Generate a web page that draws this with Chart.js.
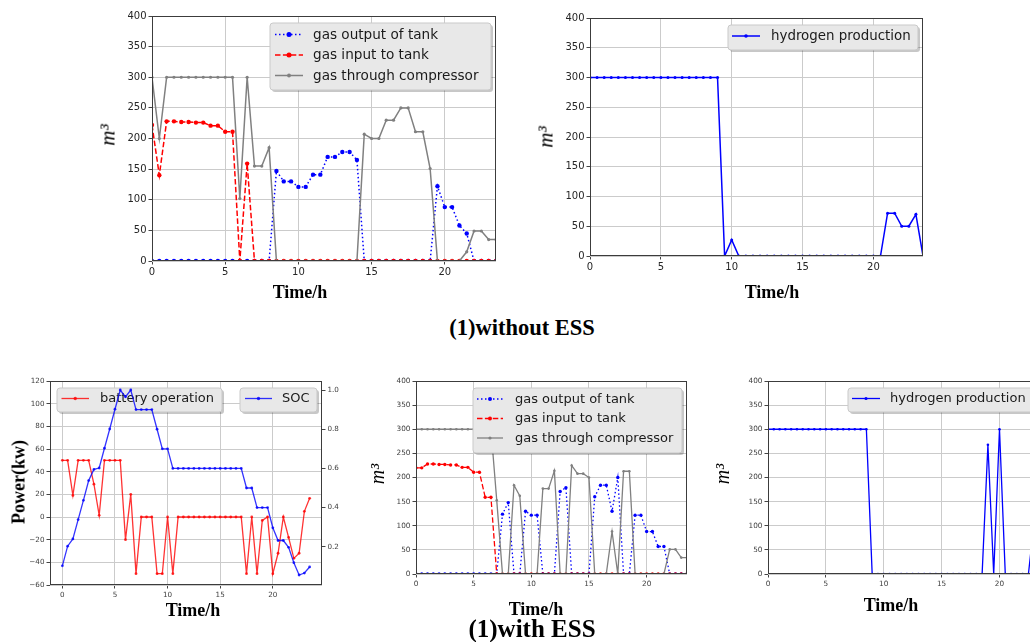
<!DOCTYPE html>
<html><head><meta charset="utf-8">
<script src="https://cdn.jsdelivr.net/npm/chart.js@4.4.1/dist/chart.umd.min.js"></script>
<style>
html,body{margin:0;padding:0;background:#fff;width:1030px;height:642px;overflow:hidden;position:relative}
canvas{position:absolute}
.t{position:absolute;white-space:nowrap;line-height:1;color:#000;transform:translate(-50%,-50%);z-index:5}
.xt{font:bold 18px "Liberation Serif",serif}
.cap{font:bold 22.5px "Liberation Serif",serif}
.yt{font:italic 21px "Liberation Serif",serif;transform:translate(-50%,-50%) rotate(-90deg)}
.yb{font:bold 18px "Liberation Serif",serif;transform:translate(-50%,-50%) rotate(-90deg)}
</style></head><body>
<div class="t yt" style="left:108px;top:135px">m³</div>
<div class="t yt" style="left:546px;top:137px">m³</div>
<div class="t yb" style="left:19px;top:482px">Power(kw)</div>
<div class="t yt" style="left:377px;top:474px;font-size:20px">m³</div>
<div class="t yt" style="left:722px;top:474px;font-size:20px">m³</div>
<div class="t xt" style="left:300px;top:292px">Time/h</div>
<div class="t xt" style="left:772px;top:292px">Time/h</div>
<div class="t xt" style="left:193px;top:610px">Time/h</div>
<div class="t xt" style="left:536px;top:609px">Time/h</div>
<div class="t xt" style="left:891px;top:605px">Time/h</div>
<div class="t cap" style="left:522px;top:328px">(1)without ESS</div>
<div class="t cap" style="left:532px;top:629px;font-size:25px">(1)with ESS</div>
<script>
// ---------------- data ----------------
const hours = [0,0.5,1,1.5,2,2.5,3,3.5,4,4.5,5,5.5,6,6.5,7,7.5,8,8.5,9,9.5,10,10.5,11,11.5,12,12.5,13,13.5,14,14.5,15,15.5,16,16.5,17,17.5,18,18.5,19,19.5,20,20.5,21,21.5,22,22.5,23,23.5];
const xTicks = [0,5,10,15,20];
const gasTicks = [0,50,100,150,200,250,300,350,400];
const powerTicks = [-60,-40,-20,0,20,40,60,80,100,120];
const socTicks = [0.2,0.4,0.6,0.8,1.0];

// (1) without ESS
const noEssTankOut = [0,0,0,0,0,0,0,0,0,0,0,0,0,0,0,0,0,147,130,130,121,121,141,141,170,170,178,178,165,0,0,0,0,0,0,0,0,0,0,122,88,88,58,45,0,0,0,0];
const noEssTankIn = [222,140,228,228,227,227,226,226,221,221,211,211,0,159,0,0,0,0,0,0,0,0,0,0,0,0,0,0,0,0,0,0,0,0,0,0,0,0,0,0,0,0,0,0,0,0,0,0];
const noEssCompressor = [300,200,300,300,300,300,300,300,300,300,300,300,102,300,155,155,185,0,0,0,0,0,0,0,0,0,0,0,0,207,200,200,230,230,250,250,211,211,151,0,0,0,0,15,49,49,35,35];
const noEssHydrogen = [300,300,300,300,300,300,300,300,300,300,300,300,300,300,300,300,300,300,300,0,27,0,0,0,0,0,0,0,0,0,0,0,0,0,0,0,0,0,0,0,0,0,72,72,50,50,70,0];

// (1) with ESS
const batteryOp = [50,50,19,50,50,50,29,1.5,50,50,50,50,-20,20,-50,0,0,0,-50,-50,0,-50,0,0,0,0,0,0,0,0,0,0,0,0,0,-50,0,-50,-3,0,-50,-32,0,-18,-36.5,-32,5,16.5];
const batterySoc = [0.103,0.203,0.240,0.339,0.437,0.538,0.595,0.602,0.703,0.801,0.902,1.0,0.965,1.0,0.90,0.90,0.90,0.90,0.80,0.70,0.70,0.60,0.60,0.60,0.60,0.60,0.60,0.60,0.60,0.60,0.60,0.60,0.60,0.60,0.60,0.50,0.50,0.40,0.40,0.40,0.297,0.232,0.232,0.197,0.119,0.056,0.066,0.097];
const essTankOut = [0,0,0,0,0,0,0,0,0,0,0,0,0,0,0,124,148,0,0,130,122,122,0,0,0,171,179,0,0,0,0,160,184,184,130,200,0,0,122,122,88,88,57,57,0,0,0,0];
const essTankIn = [220,220,228,228,227,227,226,226,221,221,211,211,159,159,0,0,0,0,0,0,0,0,0,0,0,0,0,0,0,0,0,0,0,0,0,0,0,0,0,0,0,0,0,0,0,0,0,0];
const essCompressor = [300,300,300,300,300,300,300,300,300,300,300,300,300,300,153,0,0,184,162,0,0,0,177,177,214,0,0,225,208,208,200,0,0,0,88,0,213,213,0,0,0,0,0,0,51,51,34,34];
const essHydrogen = [300,300,300,300,300,300,300,300,300,300,300,300,300,300,300,300,300,300,0,0,0,0,0,0,0,0,0,0,0,0,0,0,0,0,0,0,0,0,268,0,300,0,0,0,0,0,110,0];

// ---------------- helpers ----------------
const gridColor = '#cbcbcb';
const tickMarkColor = '#444';
function fmt(v){ return v < 0 ? '\u2212' + Math.abs(v) : String(v); }
function pts(vals){ return hours.map((h,i)=>({x:h, y:vals[i]})); }
function ds(label, vals, o){
  return Object.assign({label, data:pts(vals), borderWidth:1.5, pointRadius:2, pointBorderWidth:0, pointHoverRadius:0, tension:0, fill:false}, o);
}
function rr(ctx,x,y,w,h,r){
  ctx.beginPath(); ctx.moveTo(x+r,y); ctx.lineTo(x+w-r,y); ctx.quadraticCurveTo(x+w,y,x+w,y+r);
  ctx.lineTo(x+w,y+h-r); ctx.quadraticCurveTo(x+w,y+h,x+w-r,y+h); ctx.lineTo(x+r,y+h);
  ctx.quadraticCurveTo(x,y+h,x,y+h-r); ctx.lineTo(x,y+r); ctx.quadraticCurveTo(x,y,x+r,y); ctx.closePath();
}
const framePlugin = {
  id:'frame',
  afterDatasetsDraw(chart){
    const {ctx, chartArea:a} = chart;
    ctx.save(); ctx.strokeStyle = '#3c3c3c'; ctx.lineWidth = 1;
    ctx.strokeRect(Math.round(a.left)+0.5, Math.round(a.top)+0.5, Math.round(a.right-a.left)-1, Math.round(a.bottom-a.top)-1);
    ctx.restore();
  }
};
function drawBoxes(chart, under){
  const cfg = chart.canvas._legend; if(!cfg) return;
  const ctx = chart.ctx;
  cfg.boxes.filter(b => !!b.under === under).forEach(b=>{
    const x = b.x - cfg.ox, y = b.y - cfg.oy;
    ctx.save();
    rr(ctx, x+2, y+2, b.w, b.h, 3); ctx.fillStyle='rgba(0,0,0,0.22)'; ctx.fill();
    rr(ctx, x, y, b.w, b.h, 3); ctx.fillStyle='#e8e8e8'; ctx.fill();
    ctx.strokeStyle='#c9c9c9'; ctx.lineWidth=1; ctx.stroke();
    b.items.forEach((di,k)=>{
      const d = chart.data.datasets[di];
      const cy = y + b.pad + k*(b.rowH||0);
      ctx.beginPath(); ctx.setLineDash(d.borderDash||[]); ctx.strokeStyle=d.borderColor; ctx.lineWidth=d.borderWidth;
      ctx.moveTo(x+b.l0, cy); ctx.lineTo(x+b.l1, cy); ctx.stroke(); ctx.setLineDash([]);
      ctx.beginPath(); ctx.arc(x+(b.l0+b.l1)/2, cy, d.pointRadius+0.3, 0, Math.PI*2); ctx.fillStyle=d.pointBackgroundColor; ctx.fill();
      ctx.font = b.font; ctx.fillStyle='#1a1a1a'; ctx.textBaseline='middle'; ctx.textAlign='left';
      ctx.fillText(d.label, x+b.tx, cy+0.5);
    });
    ctx.restore();
  });
}
const legendPlugin = {
  id:'mplLegend',
  beforeDatasetsDraw(chart){ drawBoxes(chart, true); },
  afterDraw(chart){ drawBoxes(chart, false); }
};

function build(spec){
  const {rect, lm, rm, tm, bm, xMin, xMax, fs, labelColor, datasets, legends, yTicks, yMin, yMax, y1} = spec;
  const c = document.createElement('canvas');
  const W = rect.R - rect.L + lm + rm, H = rect.B - rect.T + tm + bm;
  c.width = W; c.height = H;
  c.style.left = (rect.L - lm) + 'px'; c.style.top = (rect.T - tm) + 'px';
  c.style.width = W + 'px'; c.style.height = H + 'px';
  document.body.appendChild(c);
  c._legend = {ox: rect.L - lm, oy: rect.T - tm, boxes: legends};
  const tickFont = {family:'DejaVu Sans', size:fs};
  const scales = {
    x: {type:'linear', min:xMin, max:xMax,
      afterBuildTicks: s => { s.ticks = xTicks.map(v=>({value:v})); },
      afterFit: s => { s.height = bm; },
      grid: {color:gridColor, lineWidth:1, drawTicks:true, tickLength:3.5, tickColor:tickMarkColor},
      border: {display:false},
      ticks: {font:tickFont, color:labelColor, padding:2, maxRotation:0, autoSkip:false, callback: v => fmt(v)}
    },
    y: {type:'linear', position:'left', min:yMin, max:yMax,
      afterBuildTicks: s => { s.ticks = yTicks.map(v=>({value:v})); },
      afterFit: s => { s.width = lm; },
      grid: {color:gridColor, lineWidth:1, drawTicks:true, tickLength:3.5, tickColor:tickMarkColor},
      border: {display:false},
      ticks: {font:tickFont, color:labelColor, padding:2, autoSkip:false, callback: v => fmt(v)}
    }
  };
  if (y1) {
    scales.y1 = {type:'linear', position:'right', min:y1.min, max:y1.max,
      afterBuildTicks: s => { s.ticks = y1.ticks.map(v=>({value:v})); },
      afterFit: s => { s.width = rm; },
      grid: {display:true, drawOnChartArea:false, drawTicks:true, tickLength:3.5, tickColor:tickMarkColor},
      border: {display:false},
      ticks: {font:tickFont, color:labelColor, padding:2, autoSkip:false, callback: v => v.toFixed(1)}
    };
  }
  new Chart(c, {
    type:'line',
    data:{datasets},
    options:{
      responsive:false, animation:false, devicePixelRatio:1,
      layout:{padding:{left:0, top:tm, right: y1 ? 0 : rm, bottom:0}},
      plugins:{legend:{display:false}, tooltip:{enabled:false}},
      events:[],
      scales
    },
    plugins:[framePlugin, legendPlugin]
  });
}

const blueDot = {borderColor:'#0000ff', pointBackgroundColor:'#0000ff', borderDash:[1.5,2.5]};
const redDash = {borderColor:'#ff0000', pointBackgroundColor:'#ff0000', borderDash:[5.5,2.4]};
const greySolid = {borderColor:'#808080', pointBackgroundColor:'#808080'};
const blueSolid = {borderColor:'#0000ff', pointBackgroundColor:'#0000ff'};

// Top-left: gas flows without ESS
build({
  rect:{L:152, T:16, R:496, B:261}, lm:45, rm:12, tm:12, bm:24, xMin:0, xMax:23.5, fs:10, labelColor:'#262626',
  yTicks:gasTicks, yMin:0, yMax:400,
  datasets:[
    ds('gas output of tank', noEssTankOut, Object.assign({pointRadius:2.2, order:2}, blueDot)),
    ds('gas input to tank', noEssTankIn, Object.assign({pointRadius:2.2, order:1}, redDash)),
    ds('gas through compressor', noEssCompressor, Object.assign({pointRadius:1.6, order:0}, greySolid))
  ],
  legends:[{x:270, y:23, w:221, h:67, pad:11.5, rowH:20.5, l0:5, l1:33, tx:43, font:'13.6px "DejaVu Sans"', items:[0,1,2]}]
});

// Top-right: hydrogen production without ESS
build({
  rect:{L:590, T:18, R:923, B:256}, lm:45, rm:12, tm:12, bm:24, xMin:0, xMax:23.5, fs:10, labelColor:'#262626',
  yTicks:gasTicks, yMin:0, yMax:400,
  datasets:[ ds('hydrogen production', noEssHydrogen, Object.assign({pointRadius:1.5}, blueSolid)) ],
  legends:[{x:728, y:25, w:190, h:25, pad:11, l0:4, l1:32, tx:43, font:'13.4px "DejaVu Sans"', items:[0]}]
});

// Bottom-left: battery operation & SOC
build({
  rect:{L:50, T:381, R:322, B:585}, lm:40, rm:40, tm:12, bm:24, xMin:-1.175, xMax:24.675, fs:7.2, labelColor:'#404040',
  yTicks:powerTicks, yMin:-60, yMax:120,
  y1:{min:0.005, max:1.046, ticks:socTicks},
  datasets:[
    ds('battery operation', batteryOp, {borderColor:'rgba(255,0,0,0.8)', pointBackgroundColor:'rgba(255,0,0,0.8)', borderWidth:1.3, pointRadius:1.4, yAxisID:'y', order:1}),
    ds('SOC', batterySoc, {borderColor:'rgba(0,0,255,0.8)', pointBackgroundColor:'rgba(0,0,255,0.8)', borderWidth:1.3, pointRadius:1.4, yAxisID:'y1', order:0})
  ],
  legends:[
    {x:57, y:388, w:165, h:24, pad:10.5, l0:4.5, l1:32, tx:43, font:'13px "DejaVu Sans"', items:[0], under:true},
    {x:240, y:388, w:77, h:24, pad:10.5, l0:5, l1:32, tx:42, font:'13px "DejaVu Sans"', items:[1]}
  ]
});

// Bottom-middle: gas flows with ESS
build({
  rect:{L:416, T:381, R:687, B:574}, lm:40, rm:12, tm:12, bm:24, xMin:0, xMax:23.5, fs:7.3, labelColor:'#404040',
  yTicks:gasTicks, yMin:0, yMax:400,
  datasets:[
    ds('gas output of tank', essTankOut, Object.assign({pointRadius:1.7, borderWidth:1.3, order:2}, blueDot)),
    ds('gas input to tank', essTankIn, Object.assign({pointRadius:1.7, borderWidth:1.3, order:1}, redDash)),
    ds('gas through compressor', essCompressor, Object.assign({pointRadius:1.3, borderWidth:1.3, order:0}, greySolid))
  ],
  legends:[{x:473, y:388, w:209, h:65, pad:11, rowH:19.5, l0:4, l1:30, tx:42, font:'13px "DejaVu Sans"', items:[0,1,2]}]
});

// Bottom-right: hydrogen production with ESS
build({
  rect:{L:768, T:381, R:1040, B:574}, lm:40, rm:12, tm:12, bm:24, xMin:0, xMax:23.5, fs:7.3, labelColor:'#404040',
  yTicks:gasTicks, yMin:0, yMax:400,
  datasets:[ ds('hydrogen production', essHydrogen, Object.assign({pointRadius:1.3, borderWidth:1.3}, blueSolid)) ],
  legends:[{x:848, y:388, w:186, h:24, pad:10.5, l0:4, l1:32, tx:42, font:'13px "DejaVu Sans"', items:[0]}]
});
</script>
</body></html>
